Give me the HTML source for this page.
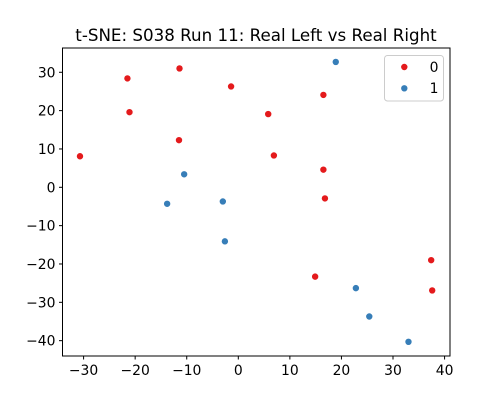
<!DOCTYPE html>
<html><head><meta charset="utf-8"><style>
body{margin:0;background:#fff}
svg{display:block;font-family:"DejaVu Sans","Liberation Sans",sans-serif}
</style></head><body>
<svg id="chart" width="500" height="400">
<text x="256" y="41" text-anchor="middle" font-size="16.7">t-SNE: S038 Run 11: Real Left vs Real Right</text>
<g id="ticks"></g>
<g id="points"></g>
<rect x="62.5" y="48" width="387.5" height="308" fill="none" stroke="#000" stroke-width="1"/>
<g>
<rect x="384.5" y="55.5" width="59" height="45.5" rx="3" fill="#fff" stroke="#ccc"/>
<circle cx="404.3" cy="67" r="3.6" fill="#e41a1c" stroke="#fff" stroke-width="0.8"/>
<text x="434" y="72" text-anchor="middle" font-size="13.9">0</text>
<circle cx="404.3" cy="88.3" r="3.6" fill="#377eb8" stroke="#fff" stroke-width="0.8"/>
<text x="434" y="93" text-anchor="middle" font-size="13.9">1</text>
</g>
</svg>
<script>
const xs0=[-21.5,-11.4,-1.4,-21.1,-11.5,-30.7,5.8,16.5,6.9,16.5,16.8,14.9,37.4,37.6];
const ys0=[28.4,31.0,26.3,19.6,12.3,8.1,19.1,24.1,8.3,4.6,-2.9,-23.3,-19.0,-26.9];
const xs1=[18.9,-10.5,-13.8,-3.0,-2.6,22.8,25.4,33.0];
const ys1=[32.7,3.4,-4.3,-3.7,-14.1,-26.3,-33.7,-40.3];
const xTicks=[-30,-20,-10,0,10,20,30,40];
const yTicks=[-40,-30,-20,-10,0,10,20,30];
const NS="http://www.w3.org/2000/svg";
function sx(v){return 238.3+v*5.157;}
function sy(v){return 187.3-v*3.834;}
const tg=document.getElementById('ticks');
xTicks.forEach(t=>{
 const l=document.createElementNS(NS,'line');
 l.setAttribute('x1',sx(t));l.setAttribute('x2',sx(t));l.setAttribute('y1',356);l.setAttribute('y2',359.5);l.setAttribute('stroke','#000');
 
 
 tg.appendChild(l);
 const s=document.createElementNS(NS,'text');
 s.setAttribute('x',sx(t));s.setAttribute('y',375);s.setAttribute('text-anchor','middle');s.setAttribute('font-size','13.9');
 s.textContent=t<0?'\u2212'+(-t):t;
 
 
 tg.appendChild(s);
});
yTicks.forEach(t=>{
 const l=document.createElementNS(NS,'line');
 l.setAttribute('x1',59);l.setAttribute('x2',62.5);l.setAttribute('y1',sy(t));l.setAttribute('y2',sy(t));l.setAttribute('stroke','#000');
 
 
 tg.appendChild(l);
 const s=document.createElementNS(NS,'text');
 s.setAttribute('x',55.5);s.setAttribute('y',sy(t)+5);s.setAttribute('text-anchor','end');s.setAttribute('font-size','13.9');
 s.textContent=t<0?'\u2212'+(-t):t;
 
 
 tg.appendChild(s);
});
const pg=document.getElementById('points');
function draw(xs,ys,col,name){
 xs.forEach((x,i)=>{
  const c=document.createElementNS(NS,'circle');
  c.setAttribute('cx',sx(x));c.setAttribute('cy',sy(ys[i]));c.setAttribute('r',3.6);
  c.setAttribute('fill',col);c.setAttribute('stroke','#fff');c.setAttribute('stroke-width',0.8);
  
  
  pg.appendChild(c);
 });
}
draw(xs0,ys0,'#e41a1c','point-class-0');
draw(xs1,ys1,'#377eb8','point-class-1');
</script>
</body></html>
